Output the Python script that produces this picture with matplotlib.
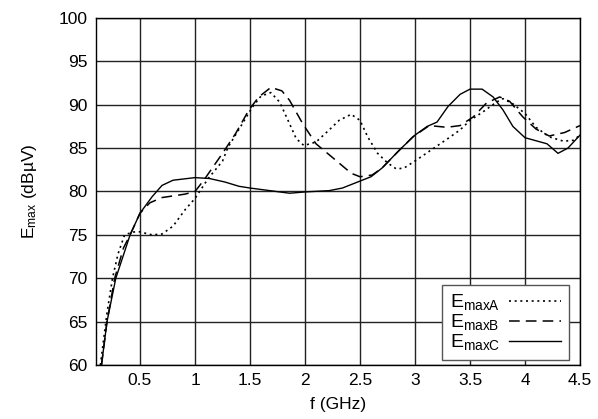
import matplotlib
matplotlib.use("Agg")
import matplotlib.pyplot as plt
import numpy as np

plt.rcParams["font.family"] = ["Liberation Sans", "DejaVu Sans"]
plt.rcParams["mathtext.fontset"] = "custom"
plt.rcParams["mathtext.rm"] = "Liberation Sans"
plt.rcParams["mathtext.it"] = "Liberation Sans"

# E_maxA (dotted)
fA = [0.14, 0.2, 0.25, 0.3, 0.36, 0.43, 0.48, 0.61, 0.70, 0.80, 0.91, 1.0, 1.12, 1.25,
      1.3, 1.43, 1.52, 1.6, 1.69, 1.77, 1.86, 1.92, 1.99, 2.1, 2.22, 2.31, 2.42, 2.5,
      2.57, 2.66, 2.75, 2.83, 2.9, 3.01, 3.16, 3.31, 3.41, 3.5, 3.62, 3.74, 3.8, 3.89,
      4.0, 4.1, 4.22, 4.35, 4.44, 4.5]
eA = [60.0, 66.0, 70.0, 72.8, 75.0, 75.3, 75.4, 75.0, 75.1, 76.0, 77.9, 79.2, 81.5, 83.5,
      85.1, 87.8, 89.7, 91.0, 91.4, 90.3, 87.8, 86.1, 85.3, 85.7, 87.1, 88.2, 88.9, 88.2,
      86.3, 84.4, 83.3, 82.6, 82.7, 83.6, 84.9, 86.2, 87.1, 88.2, 89.2, 90.3, 90.7, 90.1,
      89.0, 87.4, 86.3, 85.8, 85.9, 86.5]

# E_maxB (dashed)
fB = [0.15, 0.2, 0.27, 0.35, 0.41, 0.5, 0.59, 0.70, 0.91, 1.0, 1.08, 1.25, 1.37, 1.49,
      1.58, 1.69, 1.79, 1.86, 1.98, 2.1, 2.28, 2.42, 2.5, 2.61, 2.7, 2.83, 2.98, 3.13,
      3.29, 3.41, 3.53, 3.65, 3.77, 3.86, 3.98, 4.1, 4.22, 4.36, 4.5]
eB = [60.0, 65.0, 70.0, 73.5, 75.0, 77.5, 78.7, 79.3, 79.7, 80.0, 81.3, 84.4, 86.7, 89.4,
      90.9, 92.0, 91.6, 90.5, 87.8, 85.5, 83.6, 82.1, 81.7, 81.9, 82.7, 84.4, 86.3, 87.6,
      87.4, 87.6, 88.6, 90.2, 90.9, 90.4, 88.6, 87.2, 86.4, 86.8, 87.6]

# E_maxC (solid)
fC = [0.15, 0.2, 0.28, 0.41, 0.5, 0.61, 0.70, 0.80, 1.0, 1.13, 1.27, 1.40, 1.5, 1.86,
      2.0, 2.22, 2.34, 2.5, 2.6, 2.7, 2.86, 3.0, 3.11, 3.2, 3.3, 3.41, 3.5, 3.61, 3.71,
      3.8, 3.89, 4.0, 4.2, 4.3, 4.39, 4.5]
eC = [60.0, 65.0, 70.0, 75.0, 77.5, 79.4, 80.7, 81.3, 81.6, 81.5, 81.1, 80.6, 80.4, 79.8,
      79.95, 80.1, 80.4, 81.2, 81.7, 82.7, 84.8, 86.5, 87.5, 88.0, 89.8, 91.2, 91.8, 91.8,
      90.9, 89.4, 87.5, 86.2, 85.5, 84.4, 85.0, 86.5]

xticks = [0.5, 1, 1.5, 2, 2.5, 3, 3.5, 4, 4.5]
xticklabels = ["0.5", "1", "1.5", "2", "2.5", "3", "3.5", "4", "4.5"]
yticks = [60, 65, 70, 75, 80, 85, 90, 95, 100]

fig = plt.figure(figsize=(5.98, 4.19), dpi=100)
ax = fig.add_axes([96 / 598, (419 - 365) / 419, 484 / 598, 347 / 419])

ax.plot(fA, eA, color="black", lw=1.2, linestyle=(0, (1.2, 2.2)), label=r"E$_{\mathrm{maxA}}$")
ax.plot(fB, eB, color="black", lw=1.1, linestyle=(0, (7, 4)), label=r"E$_{\mathrm{maxB}}$")
ax.plot(fC, eC, color="black", lw=1.0, linestyle="-", label=r"E$_{\mathrm{maxC}}$")

ax.set_xlim(0.1, 4.5)
ax.set_ylim(60, 100)
ax.set_xticks(xticks)
ax.set_xticklabels(xticklabels)
ax.set_yticks(yticks)
ax.grid(True, color="#222222", lw=1.0)
ax.set_axisbelow(True)
ax.tick_params(length=0, labelsize=12.5, pad=6)
for s in ax.spines.values():
    s.set_linewidth(1.0)

ax.set_xlabel("f (GHz)", fontsize=12.5, labelpad=6)
ax.set_ylabel(r"E$_{\mathrm{max}}$ (dBµV)", fontsize=12.5, labelpad=14)

leg = ax.legend(loc="lower right", bbox_to_anchor=(0.977, 0.014), fontsize=14,
                markerfirst=False, fancybox=False, framealpha=1, edgecolor="#555555",
                handlelength=2.7, labelspacing=0.0, borderpad=0.4, handletextpad=0.45,
                borderaxespad=0)
leg.get_frame().set_linewidth(1.0)

fig.savefig("out.png", dpi=100)
